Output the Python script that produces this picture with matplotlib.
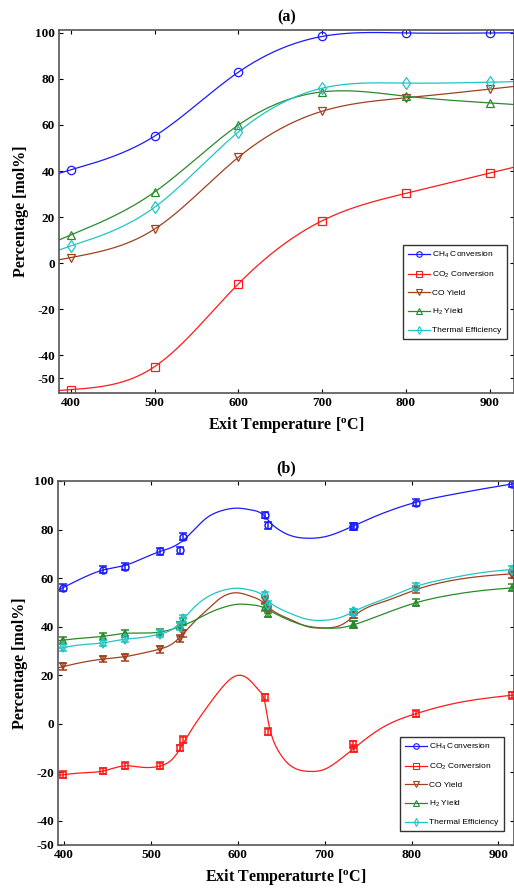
import numpy as np
import matplotlib
matplotlib.use('Agg')
import matplotlib.pyplot as plt
from matplotlib.lines import Line2D

plt.rcParams['axes.unicode_minus'] = False

# ---- panel (a): equilibrium values ----
temp_a = [400, 500, 600, 700, 800, 900]
ch4_a = [40.5, 55.2, 83.0, 98.5, 100.0, 100.0]
co2_a = [-55.0, -45.0, -9.0, 18.4, 30.3, 39.1]
co_a = [2.4, 14.8, 46.0, 66.0, 71.8, 75.6]
h2_a = [12.2, 30.9, 60.0, 74.4, 72.5, 69.6]
eff_a = [7.4, 24.3, 57.0, 76.0, 78.2, 78.6]

# ---- panel (b): experimental points ----
temp_b = [399, 445, 470, 511, 534, 537, 631, 635, 733, 734, 805, 916]
ch4_b = [56.0, 63.5, 64.7, 71.0, 71.4, 77.0, 86.0, 81.7, 81.3, 81.3, 91.0, 98.8]
co2_b = [-21.0, -19.5, -17.4, -17.4, -10.0, -6.6, 10.8, -3.3, -8.5, -10.4, 4.1, 11.6]
co_b = [23.6, 26.6, 27.4, 30.7, 35.0, 37.2, 51.0, 47.0, 44.8, 44.8, 55.2, 61.4]
h2_b = [34.4, 36.0, 37.3, 37.8, 40.5, 42.0, 48.0, 45.2, 40.7, 40.7, 49.8, 56.0]
eff_b = [31.5, 33.2, 34.9, 37.0, 40.0, 43.3, 53.0, 49.0, 46.0, 46.0, 56.4, 63.5]
err_b = 1.4

# fitted curves of panel (b)
fit_t = [393, 420, 445, 470, 490, 511, 525, 537, 550, 565, 580, 600, 615, 630,
         637, 645, 660, 680, 700, 720, 740, 770, 805, 845, 880, 918]
fit_ch4 = [55.0, 59.8, 63.3, 65.2, 68.0, 71.0, 72.8, 75.5, 80.0, 85.0, 87.6, 88.8, 88.1, 85.8,
           83.0, 80.5, 77.6, 76.4, 77.0, 79.4, 82.6, 87.1, 91.2, 94.3, 96.6, 98.9]
fit_co = [23.0, 25.2, 26.6, 27.6, 29.0, 30.8, 33.0, 37.0, 42.0, 47.0, 51.7, 53.9, 52.5, 49.8,
          47.5, 45.5, 43.0, 40.0, 39.4, 40.8, 46.0, 50.5, 55.2, 58.9, 60.7, 61.8]
fit_h2 = [34.2, 35.2, 36.0, 37.2, 37.3, 37.8, 39.0, 40.5, 42.5, 45.3, 47.5, 49.2, 49.0, 47.8,
          46.5, 45.0, 42.5, 40.2, 39.4, 39.6, 41.5, 45.5, 49.8, 53.0, 54.8, 56.0]
fit_eff = [31.0, 32.5, 33.3, 34.8, 35.5, 37.0, 39.0, 43.0, 48.0, 52.2, 54.6, 55.8, 55.0, 52.5,
           50.0, 48.0, 45.5, 43.0, 42.6, 44.0, 47.3, 51.5, 56.5, 60.0, 62.2, 63.6]
fit_t_co2 = [393, 420, 445, 470, 490, 511, 525, 535, 545, 562, 581, 600, 615, 625, 631, 635,
             640, 648, 658, 670, 683, 700, 715, 735, 767, 805, 845, 880, 918]
fit_co2 = [-21.3, -20.3, -19.5, -17.4, -18.0, -17.4, -14.5, -9.5, -3.5, 5.5, 14.5, 19.9, 17.5,
           13.5, 9.0, 1.0, -6.0, -12.0, -16.5, -19.0, -19.7, -18.8, -15.5, -9.8, -1.5, 4.1,
           8.0, 10.2, 11.8]

labels = ['CH$\\mathregular{_4}$ Conversion', 'CO$\\mathregular{_2}$ Conversion',
          'CO Yield', 'H$\\mathregular{_2}$ Yield', 'Thermal Efficiency']
colors = ['#1a1aff', '#ff1a1a', '#a0401e', '#2a8a2a', '#22c4c4']
markers = ['o', 's', 'v', '^', 'd']


def spline(x, y, xs):
    # natural cubic spline, only used to draw a smooth line
    x = np.asarray(x, float)
    y = np.asarray(y, float)
    n = len(x)
    h = np.diff(x)
    A = np.zeros((n, n))
    r = np.zeros(n)
    A[0, 0] = A[-1, -1] = 1
    for i in range(1, n-1):
        A[i, i-1] = h[i-1]
        A[i, i] = 2*(h[i-1]+h[i])
        A[i, i+1] = h[i]
        r[i] = 3*((y[i+1]-y[i])/h[i]-(y[i]-y[i-1])/h[i-1])
    c = np.linalg.solve(A, r)
    b = (y[1:]-y[:-1])/h - h*(2*c[:-1]+c[1:])/3
    d = (c[1:]-c[:-1])/(3*h)
    k = np.clip(np.searchsorted(x, xs)-1, 0, n-2)
    dx = xs - x[k]
    return y[k]+b[k]*dx+c[k]*dx**2+d[k]*dx**3


serif = 'Liberation Serif'
label_font = {'family': serif, 'weight': 'bold', 'size': 11.5}


def style_axes(ax, xlim, ylim, xlabel, title):
    ax.set_xlim(*xlim)
    ax.set_ylim(*ylim)
    ax.set_xticks([400, 500, 600, 700, 800, 900])
    ax.set_yticks([-50, -40, -20, 0, 20, 40, 60, 80, 100])
    ax.tick_params(direction='in', length=3, width=0.8, top=True, right=True, pad=3)
    for lab in ax.get_xticklabels() + ax.get_yticklabels():
        lab.set_fontfamily(serif)
        lab.set_fontweight('bold')
        lab.set_fontsize(9.5)
    for sp in ax.spines.values():
        sp.set_color('#555555')
        sp.set_linewidth(1.2)
    ax.set_xlabel(xlabel, fontdict=label_font, labelpad=4)
    ax.set_ylabel('Percentage [mol%]', fontdict=label_font, labelpad=4)
    ax.set_title(title, fontdict=label_font, pad=6)
    handles = [Line2D([], [], color=c, marker=m, mfc='none', ms=4, lw=0.9, mew=0.8)
               for c, m in zip(colors, markers)]
    return handles


def add_legend(ax, handles, anchor):
    ax.legend(handles, labels, loc='upper left', bbox_to_anchor=anchor, borderaxespad=0,
              prop={'family': 'Liberation Sans', 'size': 6}, frameon=True, fancybox=False,
              edgecolor='#333333', framealpha=1, handlelength=2.6, handletextpad=0.3,
              labelspacing=1.15, borderpad=0.6)


fig = plt.figure(figsize=(5.14, 8.92), dpi=100)

# ---------------- (a) ----------------
ax1 = fig.add_axes([0.1148, 0.5594, 0.8852, 0.407])
xlim_a = (385.7, 929)
xs = np.linspace(xlim_a[0], xlim_a[1], 400)
for y, c, m in zip([ch4_a, co2_a, co_a, h2_a, eff_a], colors, markers):
    ax1.plot(xs, spline(temp_a, y, xs), color=c, lw=0.9)
    ax1.plot(temp_a, y, ls='none', marker=m, ms=6, mfc='none', mec=c, mew=0.9)
h = style_axes(ax1, xlim_a, (-56.5, 101.3), 'Exit Temperature [$\\mathregular{^o}$C]', '(a)')
add_legend(ax1, h, (0.756, 0.408))

# ---------------- (b) ----------------
ax2 = fig.add_axes([0.1128, 0.0527, 0.8872, 0.4081])
xlim_b = (393, 918)
xs = np.linspace(xlim_b[0], xlim_b[1], 600)
fits = [(fit_t, fit_ch4), (fit_t_co2, fit_co2), (fit_t, fit_co), (fit_t, fit_h2), (fit_t, fit_eff)]
for (ft, fy), y, c, m in zip(fits, [ch4_b, co2_b, co_b, h2_b, eff_b], colors, markers):
    ax2.plot(xs, spline(ft, fy, xs), color=c, lw=0.9)
    ax2.errorbar(temp_b, y, yerr=err_b, ls='none', marker=m, ms=5, mfc='none', mec=c,
                 mew=1.1, ecolor=c, elinewidth=1.1, capsize=3, capthick=1.3)
h = style_axes(ax2, xlim_b, (-50, 100), 'Exit Temperaturte [$\\mathregular{^o}$C]', '(b)')
add_legend(ax2, h, (0.75, 0.297))

fig.savefig('out.png', dpi=100)
plt.close()
